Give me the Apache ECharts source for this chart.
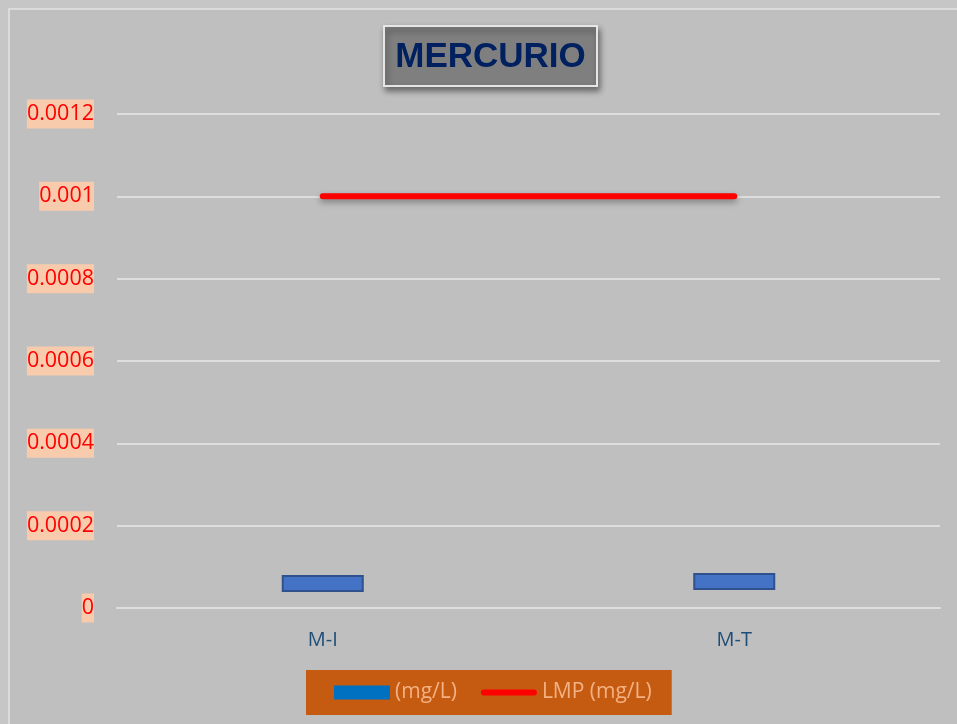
<!DOCTYPE html>
<html>
<head>
<meta charset="utf-8">
<script src="https://cdn.jsdelivr.net/npm/echarts@6/dist/echarts.min.js"></script>
<style>
  html, body { margin: 0; padding: 0; background: #c6c6c6; }
  #chart { width: 957px; height: 724px; }
</style>
</head>
<body>
<div id="chart"></div>
<script>
// Sampling points and measured mercury ranges (mg/L)
const categories = ['M-I', 'M-T'];
const rangeLow = [0.000039, 0.000044];
const rangeHigh = [0.000080, 0.000085];
const limitLMP = [0.001, 0.001];
const yTicks = [0, 0.0002, 0.0004, 0.0006, 0.0008, 0.001, 0.0012];

const rangeSpan = rangeHigh.map((h, i) => +(h - rangeLow[i]).toFixed(7));

const chart = echarts.init(document.getElementById('chart'), null, { renderer: 'canvas' });

chart.setOption({
  backgroundColor: '#c6c6c6',
  animation: false,
  graphic: [
    {
      type: 'rect',
      z: -10,
      shape: { x: 9, y: 9, width: 960, height: 730 },
      style: { fill: '#bfbfbf', stroke: '#e4e4e4', lineWidth: 1.5 }
    },
    {
      type: 'group',
      left: 383,
      top: 25,
      children: [
        {
          type: 'rect',
          shape: { x: 0, y: 0, width: 213, height: 60 },
          style: {
            fill: '#7f7f7f',
            stroke: '#e6e6e6',
            lineWidth: 2,
            shadowBlur: 6,
            shadowOffsetX: 2,
            shadowOffsetY: 4,
            shadowColor: 'rgba(0,0,0,0.45)'
          }
        },
        {
          type: 'text',
          x: 106.5,
          y: 31,
          style: {
            text: 'MERCURIO',
            fill: '#002060',
            font: 'bold 35px "Liberation Sans", Arial, sans-serif',
            textAlign: 'center',
            textVerticalAlign: 'middle'
          }
        }
      ]
    }
  ],
  grid: { left: 117, right: 17, top: 114, bottom: 116 },
  legend: {
    left: 306,
    top: 670,
    backgroundColor: '#c55a11',
    padding: [12, 20, 12, 28],
    itemGap: 24,
    itemWidth: 56,
    itemHeight: 14,
    textStyle: {
      color: '#f4b183',
      fontSize: 21,
      fontFamily: '"Open Sans", "Liberation Sans", sans-serif'
    },
    data: [
      { name: '(mg/L)', icon: 'rect', itemStyle: { color: '#0070c0', borderWidth: 0 } },
      {
        name: 'LMP (mg/L)',
        icon: 'path://M3,0 L55,0 A3,3 0 0 1 55,6 L3,6 A3,3 0 0 1 3,0 Z',
        itemStyle: { color: '#ff0000' }
      }
    ]
  },
  xAxis: {
    type: 'category',
    data: categories,
    axisLine: { show: true, lineStyle: { color: '#dedede', width: 2 } },
    axisTick: { show: false },
    axisLabel: {
      color: '#1f4e79',
      fontSize: 20,
      fontFamily: '"Open Sans", "Liberation Sans", sans-serif',
      margin: 22
    }
  },
  yAxis: {
    type: 'value',
    min: 0,
    max: 0.0012,
    interval: 0.0002,
    axisLine: { show: false },
    axisTick: { show: false },
    splitLine: { lineStyle: { color: '#dedede', width: 2 } },
    axisLabel: {
      margin: 23,
      color: '#ff0000',
      fontSize: 21.5,
      fontFamily: '"Open Sans", "Liberation Sans", sans-serif',
      backgroundColor: '#f8cbad',
      padding: [4, 0, 3, 0],
      formatter: v => {
        const t = yTicks.find(x => Math.abs(x - v) < 1e-9);
        return String(t !== undefined ? t : v);
      }
    }
  },
  series: [
    {
      name: 'base',
      type: 'bar',
      stack: 'range',
      data: rangeLow,
      barWidth: 82,
      itemStyle: { color: 'transparent' },
      emphasis: { disabled: true },
      silent: true
    },
    {
      name: '(mg/L)',
      type: 'bar',
      stack: 'range',
      data: rangeSpan,
      barWidth: 82,
      itemStyle: { color: '#4472c4', borderColor: '#2f528f', borderWidth: 2 }
    },
    {
      name: 'LMP (mg/L)',
      type: 'line',
      data: limitLMP,
      symbol: 'none',
      z: 5,
      lineStyle: {
        color: '#ff0000',
        width: 6,
        cap: 'round',
        shadowColor: 'rgba(0,0,0,0.35)',
        shadowBlur: 6,
        shadowOffsetY: 3
      }
    }
  ]
});
</script>
</body>
</html>
